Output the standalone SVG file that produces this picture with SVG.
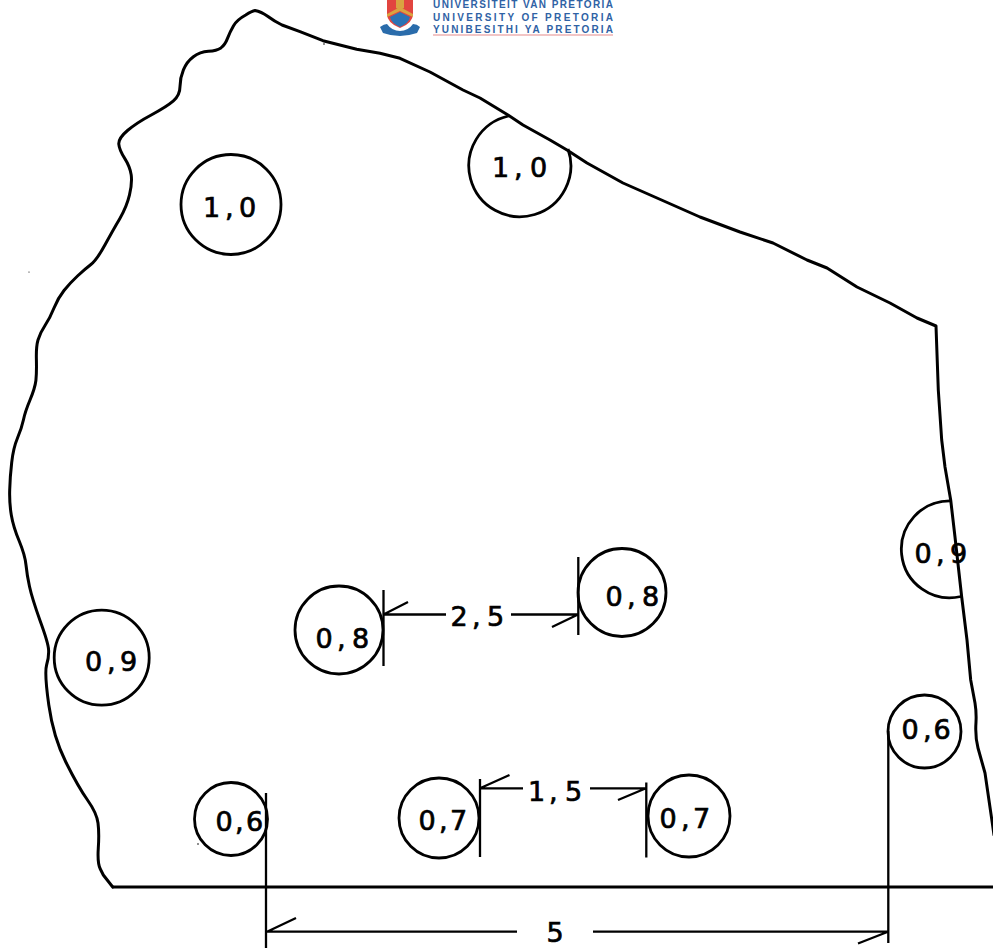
<svg xmlns="http://www.w3.org/2000/svg" width="993" height="948" viewBox="0 0 993 948">
<style>
.o{fill:none;stroke:#000;stroke-width:3;stroke-linejoin:round;stroke-linecap:round}
.c{fill:none;stroke:#000;stroke-width:2.8}
.d{fill:none;stroke:#000;stroke-width:2.3}
.t{font-family:"DejaVu Sans",sans-serif;font-size:27px;fill:#000;stroke:#000;stroke-width:.7}
.l{font-family:"Liberation Sans",Arial,sans-serif;font-size:10px;font-weight:bold;fill:#2f62a5}
</style>
<rect width="993" height="948" fill="#fff"/>
<g id="logo">
<path d="M387 0H413V14Q413 23 400 28Q387 23 387 14Z" fill="#e2453f"/>
<path d="M387 14L400 7L413 14V17L400 11L387 17Z" fill="#d9a441"/>
<path d="M396 0H404V8L400 10L396 8Z" fill="#d9a441"/>
<path d="M390 17L400 12L410 17Q409 23 400 27Q391 23 390 17Z" fill="#2b73b5"/>
<path d="M380 27Q384 24 387 24Q392 31 400 31Q408 31 413 24Q417 24 420 27L417 33Q408 36 400 36Q391 36 383 33Z" fill="#2a6cab"/>
<text class="l" x="433" y="8" textLength="180" lengthAdjust="spacing">UNIVERSITEIT VAN PRETORIA</text>
<text class="l" x="433" y="20.5" textLength="180" lengthAdjust="spacing">UNIVERSITY OF PRETORIA</text>
<text class="l" x="433" y="32.5" textLength="180" lengthAdjust="spacing">YUNIBESITHI YA PRETORIA</text>
<rect x="433" y="34.5" width="180" height="1" fill="#e58c8c"/>
</g>
<g id="outline">
<path class="o" d="M112.7 887L103.3 875Q103.3 875 100.3 869Q97.3 863 98.3 848Q99.3 833 98 823Q96.7 813 87.5 800Q78.3 787 65.8 762Q53.3 737 48.8 705Q44.3 673 46.6 665Q49 657 48.6 650Q48.3 643 40 620.5Q32 598 29.5 586.5Q27 575 26 565Q25 555 19.2 541Q13.3 527 11.3 515Q9.3 503 9.7 490Q10 477 11.7 462.5Q13.3 448 17.5 438Q21.7 428 23.4 420Q25 412 30 400Q35 388 35.9 380.5Q36.7 373 36.4 360Q36 347 38 340Q40 333 45 325.5Q50 318 54 308Q58 298 64 290.5Q70 283 77.5 276Q85 269 90.9 264.5Q96.7 260 104.9 245Q113 230 119.9 218.4Q126.7 206.7 129.5 194.9Q132.3 183 131.2 174.9Q130 166.7 124.7 158.4Q119.3 150 118.8 144.2Q118.3 138.3 127.5 130.5Q136.7 122.7 151.7 114.7Q166.7 106.7 173.4 100.9Q180 95 180 86.5Q180 78 183.4 69.9Q186.7 61.7 193.4 56.7Q200 51.7 208.4 51.2Q216.7 50.7 220.9 47.9Q225 45 227.5 38.4Q230 31.7 233.4 25.9Q236.7 20 245.7 15Q252 11 255 10.5Q261 11.5 268 16.5Q274 21 282 25L300 31.7L323 40.7L356.7 49.3L380 53.3L400 58.3L430 72L463 90L480 98L508 115L523 125L550 140L567 150L587 163L623 183L657 198L700 217L740 232L773 243L807 260L827 268L857 287L890 303L917 318L936 326L938.3 390L941.7 440L945 467L950.7 500L955 537L961.7 597L967 640L970.7 680L975 703Q976.5 712 976 722Q975 737 978 748L985 773L992.3 823L994 835"/>
<path d="M112 887H993" fill="none" stroke="#000" stroke-width="3"/>
<circle cx="324" cy="44" r=".8"/><circle cx="29" cy="272" r=".6"/><circle cx="198" cy="844" r=".8"/>
</g>
<g id="connectors">
<path class="d" d="M383.5 590V666M383.5 614.5H446M383.5 614.5L408 602M511 614.5H578M552 627L578 614.5M578.3 557V635"/>
<path class="d" d="M480 779V857M480 788.3H523M480 788.3L509.5 775M590 788.3H646M618 800L646 788.3M646.3 782.5V857.5"/>
<path class="d" d="M266 793V948M266 931.7H517M267 931.7L296 918M593 931.7H888M858 943.5L888 931.7M888.3 731V943"/>
</g>
<g id="n1"><circle class="c" cx="231" cy="204.5" r="50"/><text class="t" x="203 225 239" y="216.7">1,0</text></g>
<g id="n2"><path class="c" d="M508.5 116A51 51 0 1 0 568 149"/><text class="t" x="492 514 530" y="177">1,0</text></g>
<g id="n3"><circle class="c" cx="101.7" cy="657.7" r="47.5"/><text class="t" x="85 107 120" y="670.7">0,9</text></g>
<g id="n4"><circle class="c" cx="339" cy="630" r="44"/><text class="t" x="315.5 337 352" y="648">0,8</text></g>
<g id="n5"><circle class="c" cx="622" cy="592.5" r="44"/><text class="t" x="605.5 627 642" y="605.7">0,8</text></g>
<g id="n6"><circle class="c" cx="231" cy="819" r="36.5"/><text class="t" x="215.5 235 246" y="831">0,6</text></g>
<g id="n7"><circle class="c" cx="439" cy="818" r="40"/><text class="t" x="418.5 439 450" y="830">0,7</text></g>
<g id="n8"><circle class="c" cx="689" cy="816" r="41"/><text class="t" x="659.5 681 693" y="828">0,7</text></g>
<g id="n9"><circle class="c" cx="924.5" cy="731.5" r="36.5"/><text class="t" x="901.5 923 933.5" y="739">0,6</text></g>
<g id="n10"><path class="c" d="M950.7 500.8A48.5 48.5 0 1 0 961 596.5"/><text class="t" x="914.5 936 950" y="563.3">0,9</text></g>
<g id="labels">
<text class="t" x="450.5 472 487" y="626">2,5</text>
<text class="t" x="528 549 565" y="800.7">1,5</text>
<text class="t" x="546.5" y="941.7">5</text>
</g>
</svg>
